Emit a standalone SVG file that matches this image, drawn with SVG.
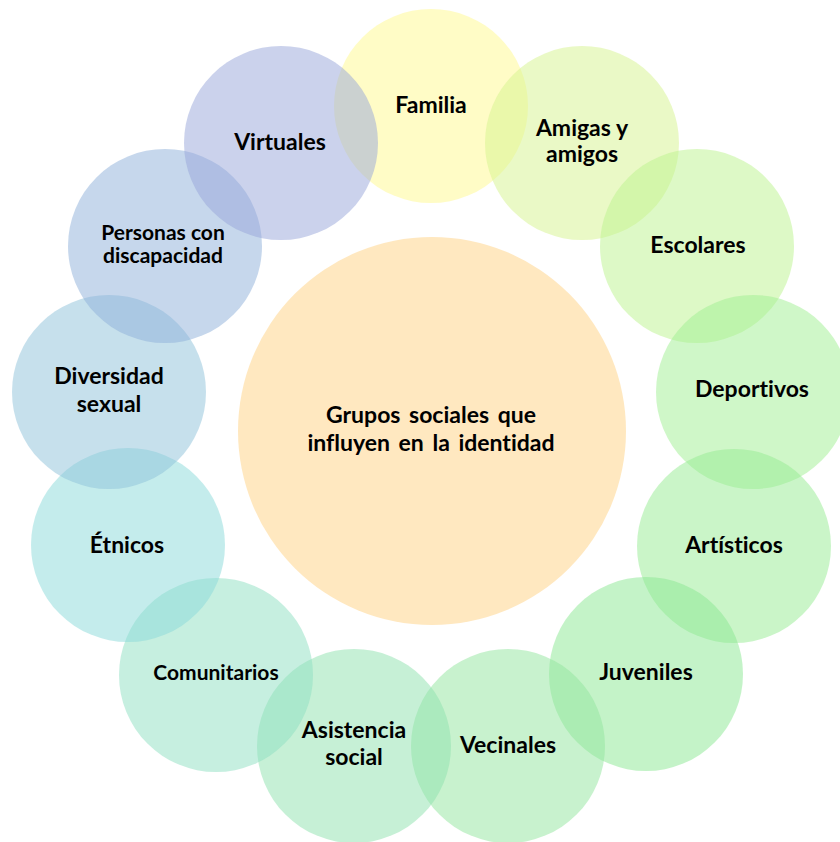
<svg xmlns="http://www.w3.org/2000/svg" width="840" height="842" viewBox="0 0 840 842">
<style>
.c{fill-opacity:0.5;stroke:none}
.t{font-family:Lato,"Open Sans","Liberation Sans",sans-serif;font-weight:bold;font-size:23px;fill:#000;text-anchor:middle;font-variant-ligatures:none}
.s{font-size:21px}
.m{font-size:23px;word-spacing:3px}
</style>
<rect width="840" height="842" fill="#fff"/>
<g id="centro">
<circle class="c" cx="432" cy="431" r="194" fill="#FFD181"/>
<text class="t m" x="431" y="423">Grupos sociales que</text>
<text class="t m" x="431" y="451">influyen en la identidad</text>
</g>
<g id="familia">
<circle class="c" cx="431" cy="106" r="97" fill="#FFF98D"/>
<text class="t" x="431" y="113">Familia</text>
</g>
<g id="amigos">
<circle class="c" cx="582" cy="143" r="97" fill="#D5F38D"/>
<text class="t" x="582" y="136">Amigas y</text>
<text class="t" x="582" y="162">amigos</text>
</g>
<g id="escolares">
<circle class="c" cx="697" cy="246" r="97" fill="#BBF38D"/>
<text class="t" x="698" y="253">Escolares</text>
</g>
<g id="deportivos">
<circle class="c" cx="753" cy="392" r="97" fill="#9FEF91"/>
<text class="t" x="752" y="397">Deportivos</text>
</g>
<g id="artisticos">
<circle class="c" cx="734" cy="546" r="97" fill="#95EB91"/>
<text class="t" x="734" y="553">Artísticos</text>
</g>
<g id="juveniles">
<circle class="c" cx="646" cy="674" r="97" fill="#89E791"/>
<text class="t" x="646" y="680">Juveniles</text>
</g>
<g id="vecinales">
<circle class="c" cx="508" cy="746" r="97" fill="#91E59D"/>
<text class="t" x="508" y="753">Vecinales</text>
</g>
<g id="asistencia">
<circle class="c" cx="354" cy="746" r="97" fill="#8DE1AD"/>
<text class="t" x="354" y="738">Asistencia</text>
<text class="t" x="354" y="765">social</text>
</g>
<g id="comunitarios">
<circle class="c" cx="216" cy="675" r="97" fill="#8DDFC1"/>
<text class="t s" x="216" y="680">Comunitarios</text>
</g>
<g id="etnicos">
<circle class="c" cx="128" cy="545" r="97" fill="#89D9D9"/>
<text class="t" x="127" y="553">Étnicos</text>
</g>
<g id="diversidad">
<circle class="c" cx="109" cy="392" r="97" fill="#8DC1D9"/>
<text class="t" x="109" y="384">Diversidad</text>
<text class="t" x="109" y="412">sexual</text>
</g>
<g id="personas">
<circle class="c" cx="165" cy="246" r="97" fill="#8DAFD9"/>
<text class="t s" x="163" y="240">Personas con</text>
<text class="t s" x="163" y="263">discapacidad</text>
</g>
<g id="virtuales">
<circle class="c" cx="281" cy="143" r="97" fill="#97A5D9"/>
<text class="t" x="280" y="150">Virtuales</text>
</g>
<g id="conectores"></g>
</svg>
